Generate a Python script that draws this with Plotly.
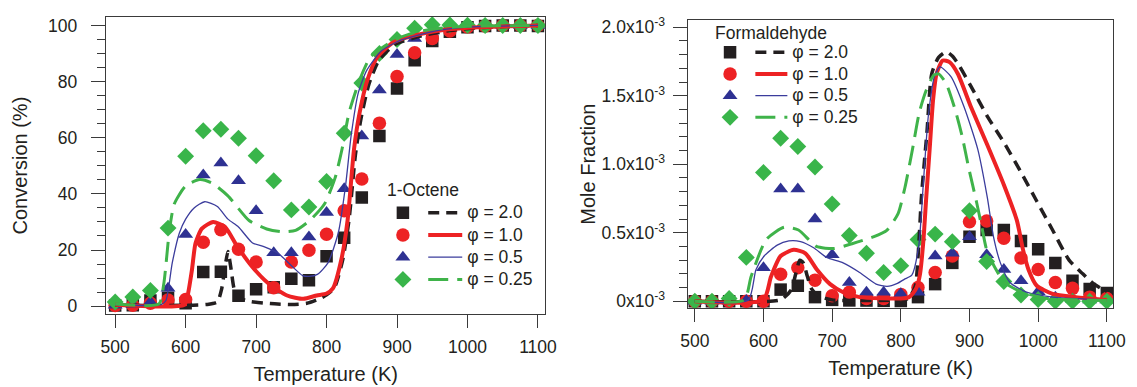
import plotly.graph_objects as go

# ---------------- data ----------------
temps = [500, 525, 550, 575, 600, 625, 650, 675, 700, 725, 750, 775, 800,
         825, 850, 875, 900, 925, 950, 975, 1000, 1025, 1050, 1075, 1100]
phi_labels = ["φ = 2.0", "φ = 1.0", "φ = 0.5", "φ = 0.25"]

# 1-octene conversion (%), measured
conv_phi20 = [0.2, 0.3, 2.0, 3.0, 1.0, 12.2, 12.3, 3.7, 6.0, 6.7, 9.8, 9.2, 17.8,
              24.4, 38.7, 60.6, 77.5, 87.6, 94.5, 97.8, 99.4, 99.8, 100, 100, 99.8]
conv_phi10 = [0.2, 0.3, 1.0, 2.2, 2.4, 22.8, 27.2, 20.3, 15.7, 6.6, 15.7, 19.9, 25.6,
              34.0, 45.3, 65.2, 81.8, 90.3, 95.4, 98.0, 99.5, 99.8, 100, 100, 100]
conv_phi05 = [0.3, 0.5, 1.5, 6.4, 25.5, 46.7, 51.0, 44.7, 34.0, 19.0, 19.0, 24.6, 33.4,
              41.8, 60.6, 77.0, 89.7, 95.4, 98.0, 99.5, 100, 100, 100, 100, 100]
conv_phi025 = [1.5, 3.3, 5.6, 27.8, 53.4, 62.5, 63.0, 59.8, 53.6, 44.7, 34.3, 35.3, 44.4,
               61.6, 79.5, 90.0, 95.0, 99.0, 100.3, 100.2, 100.1, 100, 100, 100, 100]

# 1-octene conversion (%), model
mconv20_t = [500, 600, 630, 645, 651, 656, 660, 664, 669, 676, 690, 720, 750, 772, 790,
             800, 811, 823, 832, 841, 849, 860, 874, 897, 935, 975, 1020, 1100]
mconv20 = [0.3, 0.3, 0.6, 1.5, 6, 14, 19.5, 14, 6, 3, 1.7, 0.9, 0.6, 1.0, 2.6,
           4, 6.5, 16.6, 31, 54, 67, 79, 87.5, 93.2, 96.3, 98.2, 99.3, 100]
mconv10_t = [500, 598, 603, 609, 614, 623, 639, 656, 672, 693, 716, 744, 767, 786, 800,
             809, 821, 830, 839, 847, 858, 872, 895, 933, 970, 1016, 1100]
mconv10 = [0.5, 0.5, 4, 13, 22.4, 27.6, 30, 28.2, 21.8, 14.5, 8.4, 3.8, 2.6, 3.8, 4.5,
           6.3, 16.6, 31, 56, 69, 80.6, 88.7, 94, 96.9, 98.6, 99.4, 100]
mconv05_t = [500, 565, 572, 581, 591, 600, 612, 627, 645, 660, 675, 695, 711, 731, 751,
             766, 775, 787, 802, 817, 827, 835, 845, 857, 878, 903, 953, 1000, 1100]
mconv05 = [0.5, 0.5, 2, 15.4, 26, 31, 35, 37.2, 35.5, 31, 28.2, 22.5, 21.2, 18.9, 14.2,
           10.9, 10.6, 11.3, 15.4, 26.5, 43, 61, 76, 84, 91, 94.5, 98, 99.4, 100]
mconv025_t = [500, 562, 569, 577, 584, 600, 620, 637, 660, 690, 715, 736, 756, 776, 797,
              812, 822, 832, 847, 862, 883, 903, 930, 960, 1000, 1100]
mconv025 = [0.8, 0.8, 8, 27, 36.5, 42.8, 45.1, 43.9, 39.3, 30.5, 27.5, 26.5, 27, 30.5, 36.4,
            45.6, 56, 69, 80.6, 88.7, 92.8, 95.6, 97.8, 99, 99.7, 100]

# formaldehyde mole fraction, measured
hcho_phi20 = [0, 0, 0, 0, 0, 0.085e-3, 0.113e-3, 0.03e-3, 0.01e-3, 0.006e-3, 0.005e-3,
              0.003e-3, 0.002e-3, 0.03e-3, 0.125e-3, 0.28e-3, 0.47e-3, 0.52e-3, 0.52e-3,
              0.44e-3, 0.38e-3, 0.28e-3, 0.15e-3, 0.09e-3, 0.06e-3]
hcho_phi10 = [0, 0, 0, 0, 0, 0.197e-3, 0.244e-3, 0.154e-3, 0.04e-3, 0.066e-3, 0.02e-3,
              0.02e-3, 0.05e-3, 0.10e-3, 0.21e-3, 0.33e-3, 0.58e-3, 0.585e-3, 0.46e-3,
              0.316e-3, 0.232e-3, 0.137e-3, 0.094e-3, 0.03e-3, 0.02e-3]
hcho_phi05 = [0, 0, 0, 0.006e-3, 0.244e-3, 0.82e-3, 0.82e-3, 0.60e-3, 0.34e-3, 0.137e-3,
              0.066e-3, 0.066e-3, 0.054e-3, 0.066e-3, 0.33e-3, 0.35e-3, 0.47e-3, 0.34e-3,
              0.232e-3, 0.149e-3, 0.07e-3, 0.03e-3, 0.015e-3, 0.01e-3, 0.01e-3]
hcho_phi025 = [0, 0, 0.02e-3, 0.32e-3, 0.94e-3, 1.19e-3, 1.13e-3, 0.98e-3, 0.71e-3, 0.48e-3,
               0.35e-3, 0.21e-3, 0.26e-3, 0.45e-3, 0.49e-3, 0.435e-3, 0.66e-3, 0.29e-3,
               0.144e-3, 0.046e-3, 0.013e-3, 0, 0, 0, 0]

# formaldehyde mole fraction, model
mhcho20_t = [500, 625, 640, 647, 653, 658, 664, 670, 680, 700, 800, 811, 821, 826, 830,
             838, 845, 855, 866, 875, 885, 902, 926, 950, 974, 998, 1021, 1045, 1065, 1080, 1100]
mhcho20 = [0, 0.01e-3, 0.08e-3, 0.2e-3, 0.3e-3, 0.28e-3, 0.18e-3, 0.09e-3, 0.04e-3, 0.01e-3,
           0.01e-3, 0.02e-3, 0.11e-3, 0.40e-3, 0.76e-3, 1.23e-3, 1.66e-3, 1.78e-3, 1.82e-3,
           1.79e-3, 1.72e-3, 1.57e-3, 1.35e-3, 1.16e-3, 0.95e-3, 0.73e-3, 0.52e-3, 0.30e-3,
           0.2e-3, 0.13e-3, 0.07e-3]
mhcho10_t = [500, 600, 611, 625, 644, 661, 678, 697, 716, 740, 800, 812, 818, 823, 828, 833,
             837, 842, 847, 852, 861, 871, 883, 902, 926, 950, 969, 978, 986, 998, 1021, 1055, 1100]
mhcho10 = [0, 0.01e-3, 0.18e-3, 0.33e-3, 0.375e-3, 0.35e-3, 0.23e-3, 0.125e-3, 0.066e-3,
           0.03e-3, 0.02e-3, 0.03e-3, 0.06e-3, 0.1e-3, 0.2e-3, 0.45e-3, 0.756e-3, 1.11e-3,
           1.47e-3, 1.66e-3, 1.757e-3, 1.745e-3, 1.66e-3, 1.42e-3, 1.14e-3, 0.85e-3, 0.59e-3,
           0.375e-3, 0.23e-3, 0.113e-3, 0.054e-3, 0.03e-3, 0.01e-3]
mhcho05_t = [500, 578, 589, 601, 620, 637, 654, 673, 692, 716, 740, 764, 780, 795, 805, 816,
             826, 833, 840, 849, 857, 873, 892, 912, 926, 935, 945, 959, 983, 1021, 1100]
mhcho05 = [0, 0.01e-3, 0.23e-3, 0.33e-3, 0.41e-3, 0.44e-3, 0.435e-3, 0.39e-3, 0.32e-3,
           0.28e-3, 0.21e-3, 0.125e-3, 0.108e-3, 0.13e-3, 0.16e-3, 0.19e-3, 0.4e-3, 0.876e-3,
           1.35e-3, 1.64e-3, 1.71e-3, 1.64e-3, 1.42e-3, 1.11e-3, 0.756e-3, 0.47e-3, 0.28e-3,
           0.137e-3, 0.066e-3, 0.03e-3, 0.01e-3]
mhcho025_t = [500, 572, 582, 604, 630, 651, 677, 703, 729, 760, 780, 796, 806, 817, 827, 837,
              848, 855, 866, 879, 889, 899, 910, 918, 925, 936, 951, 977, 1013, 1100]
mhcho025 = [0, 0.01e-3, 0.18e-3, 0.45e-3, 0.54e-3, 0.52e-3, 0.40e-3, 0.385e-3, 0.42e-3,
            0.47e-3, 0.52e-3, 0.64e-3, 0.83e-3, 1.11e-3, 1.38e-3, 1.54e-3, 1.65e-3, 1.66e-3,
            1.59e-3, 1.40e-3, 1.21e-3, 0.97e-3, 0.73e-3, 0.54e-3, 0.375e-3, 0.256e-3,
            0.137e-3, 0.066e-3, 0.02e-3, 0.005e-3]

conv_ticks = [0, 20, 40, 60, 80, 100]
hcho_ticks = [0, 0.5e-3, 1.0e-3, 1.5e-3, 2.0e-3]
hcho_ticktext = ["0x10<sup>-3</sup>", "0.5x10<sup>-3</sup>", "1.0x10<sup>-3</sup>",
                 "1.5x10<sup>-3</sup>", "2.0x10<sup>-3</sup>"]
temp_ticks = [500, 600, 700, 800, 900, 1000, 1100]

# ---------------- styles ----------------
FONT = "Liberation Sans, Arial, sans-serif"
TXT = "#231f20"
AX = "#3a3a3a"
colors = ["#231f20", "#ed2224", "#2e3192", "#39b54a"]
symbols = ["square", "circle", "triangle-up", "diamond"]
msizes = [12.5, 13.5, 13, 13]
line_styles = [dict(color="#231f20", width=3.5, dash="11px,7px"),
               dict(color="#ed2224", width=4),
               dict(color="#3b3c9c", width=1.3),
               dict(color="#3fb34a", width=3, dash="20px,9px")]

meas_conv = [conv_phi20, conv_phi10, conv_phi05, conv_phi025]
model_conv = [(mconv20_t, mconv20), (mconv10_t, mconv10),
              (mconv05_t, mconv05), (mconv025_t, mconv025)]
meas_hcho = [hcho_phi20, hcho_phi10, hcho_phi05, hcho_phi025]
model_hcho = [(mhcho20_t, mhcho20), (mhcho10_t, mhcho10),
              (mhcho05_t, mhcho05), (mhcho025_t, mhcho025)]

LEG_TXT = '<span style="font-size:17.5px">{}</span>'

fig = go.Figure()

panels = [
    ("x", "y", meas_conv, model_conv, "legend", "legend2"),
    ("x2", "y2", meas_hcho, model_hcho, "legend3", "legend4"),
]
for xa, ya, meas, model, leg_m, leg_l in panels:
    for i in range(4):
        fig.add_trace(go.Scatter(
            x=temps, y=meas[i], mode="markers", xaxis=xa, yaxis=ya,
            marker=dict(symbol=symbols[i], size=msizes[i], color=colors[i], line=dict(width=0)),
            name="", legend=leg_m, showlegend=True, cliponaxis=True))
    for i in range(4):
        fig.add_trace(go.Scatter(
            x=model[i][0], y=model[i][1], mode="lines", xaxis=xa, yaxis=ya,
            line=dict(shape="spline", smoothing=0.6, **line_styles[i]),
            name=LEG_TXT.format(phi_labels[i]), legend=leg_l, showlegend=True))

W, H = 1137, 387


def px_x(p):
    return p / W


def px_y(p):
    return 1 - p / H


axis_common = dict(showline=True, linecolor=AX, linewidth=1.4, mirror=True,
                   ticks="outside", tickcolor=AX, tickwidth=1.4, showgrid=False,
                   zeroline=False, tickfont=dict(family=FONT, size=17.5, color=TXT),
                   title_font=dict(family=FONT, size=20, color=TXT))

leg_common = dict(bgcolor="rgba(0,0,0,0)", borderwidth=0, xanchor="left", yanchor="top",
                  traceorder="normal", font=dict(family=FONT, color=TXT))

fig.update_layout(
    width=W, height=H, margin=dict(l=0, r=0, t=0, b=0),
    paper_bgcolor="white", plot_bgcolor="white",
    font=dict(family=FONT, color=TXT),
    xaxis=dict(axis_common, domain=[px_x(100.7), px_x(547.5)], range=[487, 1110.5],
               tickvals=temp_ticks, ticklen=13, anchor="y", ticklabelstandoff=4,
               title=dict(text="Temperature (K)", standoff=10)),
    yaxis=dict(axis_common, domain=[px_y(315.7), px_y(12.3)], range=[-2.86, 103.0],
               tickvals=conv_ticks, ticklen=14, anchor="x", ticklabelstandoff=10,
               minor=dict(dtick=5, ticklen=8, ticks="outside", tickcolor=AX, tickwidth=1.4),
               title=dict(text="Conversion (%)", standoff=15)),
    xaxis2=dict(axis_common, domain=[px_x(692.3), px_x(1125.3)], range=[489.7, 1109.7],
                tickvals=temp_ticks, ticklen=13, anchor="y2", ticklabelstandoff=4,
                title=dict(text="Temperature (K)", standoff=10)),
    yaxis2=dict(axis_common, domain=[px_y(309.3), px_y(15.7)], range=[-0.0486e-3, 2.05e-3],
                tickvals=hcho_ticks, ticktext=hcho_ticktext, ticklen=14, anchor="x2",
                ticklabelstandoff=4,
                minor=dict(dtick=0.1e-3, ticklen=8, ticks="outside", tickcolor=AX, tickwidth=1.4),
                title=dict(text="Mole Fraction", standoff=0)),
    legend=dict(leg_common, x=px_x(382.3), y=px_y(195.6), itemwidth=30,
                font=dict(family=FONT, color=TXT, size=14.8)),
    legend2=dict(leg_common, x=px_x(423.3), y=px_y(195.6), itemwidth=34,
                 font=dict(family=FONT, color=TXT, size=14.8)),
    legend3=dict(leg_common, x=px_x(715), y=px_y(32), itemwidth=30,
                 font=dict(family=FONT, color=TXT, size=14.4)),
    legend4=dict(leg_common, x=px_x(756), y=px_y(32), itemwidth=32,
                 font=dict(family=FONT, color=TXT, size=14.4)),
    annotations=[
        dict(text="1-Octene", xref="paper", yref="paper", x=px_x(384), y=px_y(189),
             xanchor="left", yanchor="middle", showarrow=False,
             font=dict(family=FONT, size=17.5, color=TXT)),
        dict(text="Formaldehyde", xref="paper", yref="paper", x=px_x(717.7), y=px_y(29),
             xanchor="left", yanchor="middle", showarrow=False,
             font=dict(family=FONT, size=17.5, color=TXT)),
    ],
)

fig.write_html("out.html")
